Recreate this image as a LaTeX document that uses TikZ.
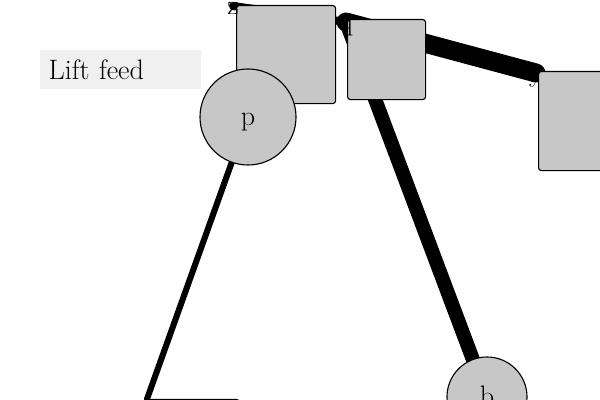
\documentclass[tikz,border=0pt]{standalone}
\usetikzlibrary{backgrounds}
\begin{document}
\begin{tikzpicture}[x=0.025cm, y=-0.025cm]
\tikzstyle{square}=[draw, thick, fill=black!22, rounded corners=2pt, anchor=north west]
\tikzstyle{disc}=[draw, thick, fill=black!22, circle, font=\fontsize{20}{24}\selectfont, text height=15pt, text depth=3pt]
\tikzstyle{tag}=[font=\fontsize{20}{24}\selectfont, inner sep=0pt, text height=15pt, text depth=3pt]
\tikzstyle{caption}=[fill=black!6, anchor=north west, minimum height=0.975cm, text width=102pt, inner xsep=6pt, align=left, font=\fontsize{20}{24}\selectfont]
\tikzstyle{wire}=[line cap=round]

\useasboundingbox (0,0) rectangle (600,400);

\coordinate (z) at (233,6);
\coordinate (q) at (346,22);
\coordinate (y) at (536,73);
\coordinate (w) at (147,399);

\draw (40,50) node[caption] (title) {Lift feed};

\draw (236,5) node[square, minimum width=2.475cm, minimum height=2.45cm] (zbox) {};
\draw (347,19) node[square, minimum width=1.95cm, minimum height=2cm] (qbox) {};
\draw (538,71) node[square, minimum width=2.475cm, minimum height=2.475cm] (ybox) {};
\draw (w) node[square, minimum width=2.3cm, minimum height=1.5cm] (wbox) {};
\draw (248,117) node[disc, minimum size=2.4cm] (p) {p};
\draw (487,397) node[disc, minimum size=2cm] (b) {b};

\node[tag] (zlab) at (z) {z};
\node[tag] (qlab) at (q) {q};
\node[tag] (ylab) at (y) {y};

\begin{scope}[on background layer]
\draw[wire, line width=5.7pt] (z) -- (q);
\draw[wire, line width=13.5pt] (q) -- (y);
\draw[wire, line width=10pt] (q) -- (b.center);
\draw[wire, line width=4.3pt] (p.center) -- (w);
\end{scope}
\end{tikzpicture}
\end{document}
